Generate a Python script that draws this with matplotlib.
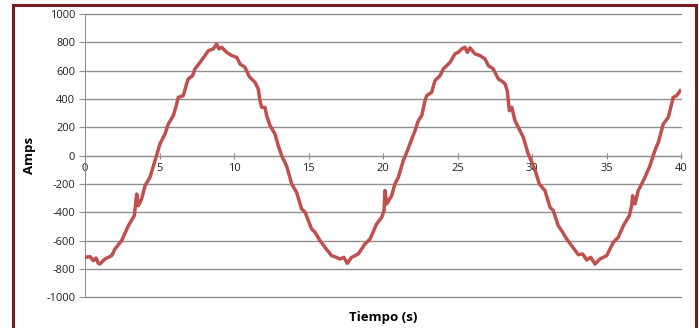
import matplotlib
matplotlib.use("Agg")
import matplotlib.pyplot as plt
from matplotlib.patches import Rectangle

# datos: tiempo (s) y corriente (A)
tiempo = [0.0, 0.34, 0.56, 0.74, 0.89, 1.0, 1.34, 1.79, 2.01, 2.46, 2.91, 3.31,
          3.47, 3.58, 3.8, 4.03, 4.36, 4.63, 4.8, 5.03, 5.37, 5.59, 5.93, 6.15,
          6.26, 6.6, 6.82, 6.93, 7.22, 7.38, 7.72, 8.05, 8.28, 8.61, 8.83, 8.99,
          9.17, 9.51, 9.85, 10.18, 10.4, 10.74, 11.03, 11.41, 11.63, 11.74, 11.86,
          12.08, 12.19, 12.42, 12.75, 12.97, 13.2, 13.54, 13.87, 14.2, 14.54,
          14.77, 15.21, 15.44, 15.77, 16.11, 16.55, 16.89, 17.11, 17.38, 17.6,
          17.89, 18.34, 18.79, 19.13, 19.57, 19.91, 20.07, 20.13, 20.25, 20.58,
          20.8, 21.03, 21.36, 21.55, 21.81, 22.15, 22.37, 22.6, 22.82, 22.93,
          23.26, 23.49, 23.83, 24.05, 24.5, 24.83, 25.05, 25.28, 25.5, 25.66,
          25.84, 26.17, 26.51, 26.85, 27.07, 27.4, 27.74, 28.0, 28.19, 28.34,
          28.48, 28.64, 28.86, 29.08, 29.42, 29.72, 30.2, 30.49, 30.87, 31.21,
          31.43, 31.76, 31.99, 32.33, 32.66, 33.11, 33.4, 33.67, 33.94, 34.23,
          34.56, 35.01, 35.46, 35.79, 36.13, 36.53, 36.69, 36.75, 36.91, 37.13,
          37.36, 37.58, 37.92, 38.26, 38.48, 38.81, 39.15, 39.48, 39.71, 39.95]
amps = [-718, -714, -742, -723, -761, -766, -730, -707, -660, -600, -495, -424,
        -271, -353, -306, -212, -153, -59, 0, 83, 153, 224, 283, 365,
        412, 424, 507, 542, 565, 613, 659, 707, 742, 754, 789, 754,
        766, 730, 707, 695, 648, 624, 558, 518, 471, 389, 341,
        341, 283, 212, 153, 71, 0, -75, -200, -259, -377,
        -400, -518, -542, -600, -648, -707, -719, -730, -719, -761,
        -719, -695, -624, -589, -483, -436, -389, -247, -341, -283,
        -200, -153, -35, 12, 83, 177, 247, 283, 389, 424,
        447, 530, 565, 613, 659, 719, 730, 754, 766, 730,
        762, 719, 707, 683, 636, 613, 542, 525, 507, 459,
        318, 341, 247, 200, 129, 20, -100, -200, -247, -365,
        -389, -495, -530, -589, -636, -700, -695, -737, -719, -766,
        -730, -707, -612, -577, -495, -424, -353, -283, -341, -247,
        -200, -153, -70, 40, 94, 224, 271, 412, 424, 459]

x_ticks = [0, 5, 10, 15, 20, 25, 30, 35, 40]
y_ticks = [-1000, -800, -600, -400, -200, 0, 200, 400, 600, 800, 1000]

GRID = "#8f8f8f"
LINE = "#C0504D"

plt.rcParams["font.family"] = ["Open Sans", "DejaVu Sans"]
plt.rcParams["axes.unicode_minus"] = False

fig = plt.figure(figsize=(6.99, 3.28), dpi=100)
ax = fig.add_axes([85 / 699, 1 - 300 / 328, (681 - 85) / 699, (300 - 12) / 328])

ax.plot(tiempo, amps, color=LINE, lw=2.5, solid_joinstyle="round", zorder=3)

ax.set_xlim(0, 40)
ax.set_ylim(-1020, 1015)
ax.set_xticks(x_ticks)
ax.set_yticks(y_ticks)
ax.tick_params(labelsize=8, colors="#222222")
ax.tick_params(axis="x", direction="inout", length=5, color=GRID, pad=3)
ax.tick_params(axis="y", direction="out", length=4, color=GRID, pad=3)

# líneas de cuadrícula horizontales (incluida la de -1000)
for yv in y_ticks:
    ax.axhline(yv, color=GRID, lw=1.0, zorder=1, clip_on=False)

for s in ("top", "right"):
    ax.spines[s].set_visible(False)
ax.spines["bottom"].set_position(("data", 0))
ax.spines["bottom"].set_color(GRID)
ax.spines["left"].set_color(GRID)
ax.spines["left"].set_bounds(-1000, 1000)

fig.text(30 / 699, 1 - 155 / 328, "Amps", rotation=90, ha="center", va="center",
         fontsize=9.5, fontweight="bold")
fig.text(383 / 699, 1 - 318 / 328, "Tiempo (s)", ha="center", va="center",
         fontsize=9.5, fontweight="bold")

# marco rojo oscuro alrededor del gráfico
fig.patches.append(Rectangle((13 / 699, -0.2), (696 - 13) / 699, 1.2 - 5 / 328,
                             transform=fig.transFigure, fill=False,
                             edgecolor="#7B1C22", lw=2.2, clip_on=False))

fig.savefig("out.png", dpi=100)
